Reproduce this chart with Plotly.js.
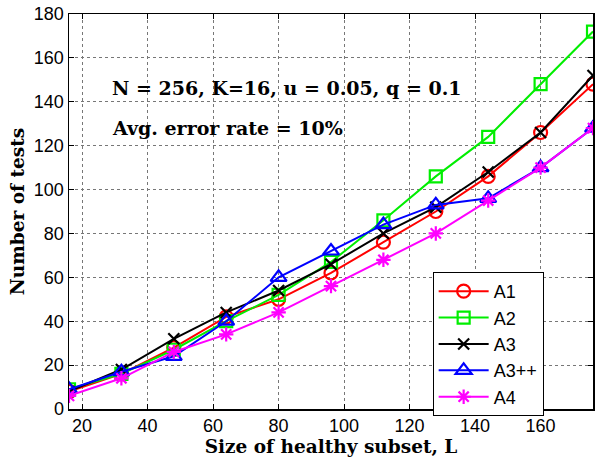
<!DOCTYPE html>
<html><head><meta charset="utf-8">
<script src="https://cdn.plot.ly/plotly-3.0.1.min.js"></script>
<style>html,body{margin:0;padding:0;background:#fff}#chart{width:603px;height:457px}</style>
</head><body><div id="chart"></div>
<script>
const L = [16, 32, 48, 64, 80, 96, 112, 128, 144, 160, 176];
const A1 = [8, 16, 28, 42, 50, 62, 76, 90, 106, 126, 148];
const A2 = [9, 16, 27, 40, 52, 67, 86, 106, 124, 148, 172];
const A3 = [8, 18, 32, 44, 54, 66, 80, 92, 108, 126, 152];
const A3pp = [9, 17, 24, 40, 60, 72, 84, 93, 96, 110, 128];
const A4 = [6, 14, 26, 34, 44, 56, 68, 80, 95, 110, 128];
const seriesNames = ['A1', 'A2', 'A3', 'A3++', 'A4'];
const xTicks = [20, 40, 60, 80, 100, 120, 140, 160];
const yTicks = [0, 20, 40, 60, 80, 100, 120, 140, 160, 180];

const styles = [
  {color: '#ff0000', symbol: 'circle-open', size: 13},
  {color: '#00ee00', symbol: 'square-open', size: 12},
  {color: '#000000', symbol: 'x-thin-open', size: 11},
  {color: '#0000ff', symbol: 'triangle-up-open', size: 14},
  {color: '#ff00ff', symbol: 'asterisk-open', size: 12}
];
const ys = [A1, A2, A3, A3pp, A4];
const traces = ys.map((y, i) => ({
  x: L, y: y, name: seriesNames[i], type: 'scatter', mode: 'lines+markers',
  line: {color: styles[i].color, width: 2},
  marker: {symbol: styles[i].symbol, size: styles[i].size, color: styles[i].color,
           line: {color: styles[i].color, width: 2.2}}
}));

const serifBold = {family: 'DejaVu Serif, serif', size: 18.5, color: '#000', weight: 'bold'};
const axisCommon = {
  showline: true, linecolor: '#000', linewidth: 1.5, mirror: 'ticks',
  ticks: 'inside', ticklen: 5, tickcolor: '#000', tickwidth: 1,
  showgrid: true, gridcolor: '#777', griddash: 'dot', gridwidth: 1,
  zeroline: false,
  tickfont: {family: 'Liberation Sans, Arial, sans-serif', size: 18, color: '#000'}
};
const layout = {
  width: 603, height: 457,
  margin: {l: 69, r: 10, t: 14, b: 48},
  paper_bgcolor: '#fff', plot_bgcolor: '#fff',
  showlegend: true,
  legend: {x: 0.694, y: 0.347, xanchor: 'left', yanchor: 'top',
           bgcolor: '#fff', bordercolor: '#000', borderwidth: 1,
           font: {family: 'Liberation Sans, Arial, sans-serif', size: 18, color: '#000'},
           tracegroupgap: 0, itemwidth: 50},
  xaxis: Object.assign({}, axisCommon, {
    range: [16, 176], tickvals: xTicks, ticktext: xTicks.map(String),
    title: {text: 'Size of healthy subset, L', standoff: 6, font: serifBold}
  }),
  yaxis: Object.assign({}, axisCommon, {
    range: [0, 180], tickvals: yTicks, ticktext: yTicks.map(String),
    title: {text: 'Number of tests', standoff: 4, font: serifBold}
  }),
  annotations: [
    {text: 'N = 256, K=16, u = 0.05, q = 0.1', xref: 'paper', yref: 'paper',
     x: 0.078, y: 0.813, xanchor: 'left', yanchor: 'middle', showarrow: false,
     font: {family: 'DejaVu Serif, serif', size: 19, color: '#000', weight: 'bold'}},
    {text: 'Avg. error rate = 10%', xref: 'paper', yref: 'paper',
     x: 0.078, y: 0.711, xanchor: 'left', yanchor: 'middle', showarrow: false,
     font: {family: 'DejaVu Serif, serif', size: 19, color: '#000', weight: 'bold'}}
  ]
};
Plotly.newPlot('chart', traces, layout, {displayModeBar: false, staticPlot: true});
</script></body></html>
